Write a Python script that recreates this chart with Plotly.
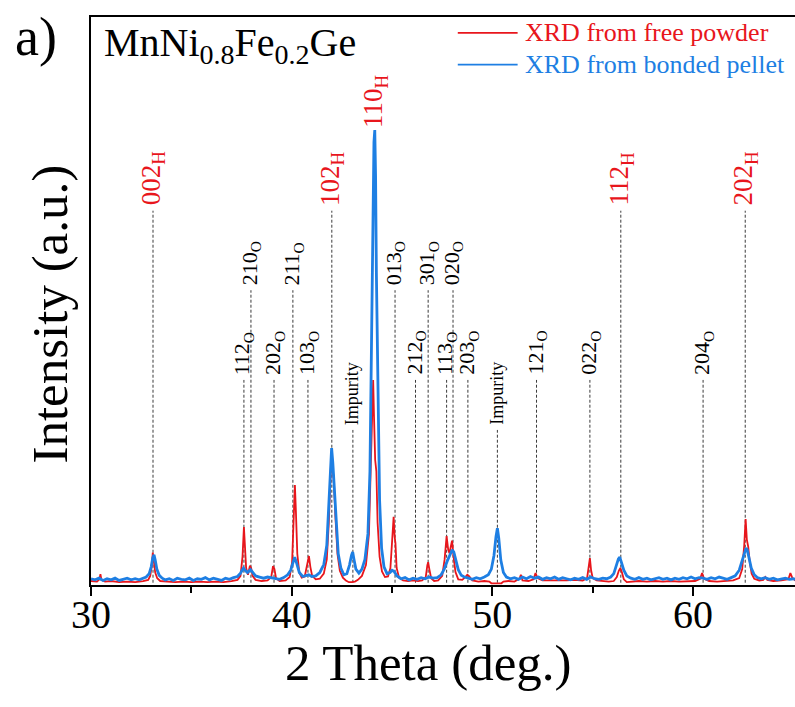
import plotly.graph_objects as go

# ---------------- data ----------------
# XRD from free powder (red): 2-theta (deg) / intensity (a.u.)
powder_2theta = [30.0, 30.3, 30.42, 30.47, 30.52, 30.7, 31.0, 31.4, 31.8, 32.2, 32.6, 32.85, 32.95, 33.02, 33.08,
                 33.13, 33.2, 33.3, 33.45, 33.8, 34.2, 34.6, 35.0, 35.4, 35.8, 36.2, 36.6, 37.0, 37.3, 37.45,
                 37.55, 37.62, 37.67, 37.73, 37.82, 37.92, 37.98, 38.05, 38.2, 38.5, 38.8, 38.98, 39.07, 39.14,
                 39.22, 39.4, 39.7, 39.9, 40.02, 40.1, 40.16, 40.21, 40.28, 40.38, 40.5, 40.65, 40.78, 40.86,
                 40.93, 41.02, 41.2, 41.4, 41.6, 41.75, 41.85, 41.93, 41.98, 42.04, 42.1, 42.18, 42.28, 42.4,
                 42.55, 42.7, 42.85, 43.0, 43.15, 43.3, 43.5, 43.7, 43.85, 43.95, 44.02, 44.06, 44.1, 44.16,
                 44.22, 44.28, 44.38, 44.5, 44.65, 44.8, 44.92, 45.02, 45.08, 45.13, 45.17, 45.23, 45.35, 45.55,
                 45.8, 46.05, 46.3, 46.5, 46.68, 46.76, 46.8, 46.86, 46.95, 47.1, 47.3, 47.5, 47.62, 47.72,
                 47.8, 47.86, 47.94, 47.99, 48.06, 48.16, 48.3, 48.5, 48.65, 48.75, 48.85, 49.0, 49.3, 49.6,
                 49.85, 49.95, 50.2, 50.45, 50.55, 50.8, 51.1, 51.35, 51.42, 51.5, 51.8, 52.05, 52.15, 52.25,
                 52.5, 52.9, 53.3, 53.7, 54.1, 54.5, 54.72, 54.8, 54.86, 54.92, 55.0, 55.2, 55.5, 55.8, 56.05,
                 56.2, 56.3, 56.38, 56.45, 56.55, 56.7, 56.9, 57.3, 57.7, 58.1, 58.5, 58.9, 59.3, 59.7, 60.1,
                 60.35, 60.45, 60.55, 60.8, 61.2, 61.6, 62.0, 62.3, 62.45, 62.55, 62.62, 62.68, 62.75, 62.82,
                 62.92, 63.05, 63.3, 63.5, 63.6, 63.7, 64.0, 64.4, 64.75, 64.85, 64.95, 65.1]
powder_intensity = [0.7, 0.6, 1.0, 1.9, 0.9, 0.6, 0.7, 0.5, 0.6, 0.5, 0.7, 0.9, 1.6, 3.2, 5.7,
                    4.5, 2.2, 1.2, 0.7, 0.6, 0.5, 0.6, 0.5, 0.6, 0.5, 0.6, 0.5, 0.7, 0.9, 1.6,
                    5.0, 10.2, 7.0, 3.0, 1.8, 3.4, 3.0, 1.6, 0.9, 0.7, 0.8, 1.4, 3.3, 2.8,
                    1.2, 0.7, 0.8, 1.4, 4.0, 12.0, 17.6, 13.0, 5.5, 2.2, 1.3, 1.5, 3.8, 5.1,
                    3.2, 1.6, 1.0, 1.1, 2.0, 4.5, 11.0, 20.0, 23.4, 20.5, 18.5, 12.0, 5.5, 2.5,
                    1.3, 0.8, 0.5, 0.5, 0.6, 0.9, 1.6, 3.5, 9.0, 22.0, 34.0, 36.1, 30.0, 22.0,
                    20.0, 11.0, 5.0, 2.4, 1.4, 1.5, 3.0, 8.0, 12.0, 8.5, 7.4, 3.0, 1.3, 0.8,
                    0.7, 0.8, 0.7, 0.8, 1.4, 3.5, 4.0, 2.8, 1.2, 0.7, 0.8, 1.6, 4.5, 8.6,
                    6.2, 5.6, 7.2, 7.8, 5.2, 2.3, 1.0, 0.9, 1.4, 1.8, 1.5, 0.8, 0.6, 0.7,
                    0.6, 0.3, 0.3, 0.3, 0.6, 0.7, 0.6, 1.1, 1.8, 0.8, 0.7, 1.0, 2.1, 1.2,
                    0.8, 0.8, 0.7, 0.8, 0.9, 0.8, 1.2, 3.5, 4.75, 2.6, 1.2, 0.8, 0.7, 0.6, 0.7,
                    1.4, 2.5, 3.0, 2.3, 1.0, 0.5, 0.6, 0.7, 0.6, 0.7, 0.6, 0.7, 0.6, 0.7, 0.7,
                    1.1, 2.1, 1.1, 0.7, 0.6, 0.7, 0.8, 1.2, 2.8, 7.0, 11.6, 8.0, 6.7, 4.2,
                    2.0, 1.1, 0.8, 0.9, 1.4, 0.9, 0.7, 0.8, 1.0, 2.1, 1.2, 0.8]

# XRD from bonded pellet (blue)
pellet_2theta = [30.0, 30.2, 30.4, 30.6, 30.8, 31.0, 31.2, 31.4, 31.6, 31.8, 32.0, 32.2, 32.4, 32.6, 32.75,
                 32.9, 33.0, 33.08, 33.14, 33.2, 33.28, 33.4, 33.55, 33.7, 33.9, 34.1, 34.3, 34.5, 34.7,
                 34.9, 35.1, 35.3, 35.5, 35.7, 35.9, 36.1, 36.3, 36.5, 36.7, 36.9, 37.1, 37.3, 37.45, 37.6,
                 37.7, 37.8, 37.95, 38.05, 38.2, 38.4, 38.6, 38.8, 39.0, 39.2, 39.4, 39.6, 39.8, 39.95,
                 40.05, 40.15, 40.25, 40.38, 40.55, 40.7, 40.85, 41.0, 41.2, 41.4, 41.6, 41.75, 41.85,
                 41.93, 41.99, 42.05, 42.12, 42.2, 42.32, 42.45, 42.6, 42.75, 42.88, 42.98, 43.04, 43.1,
                 43.2, 43.35, 43.5, 43.65, 43.8, 43.9, 43.98, 44.05, 44.1, 44.14, 44.18, 44.22, 44.25,
                 44.3, 44.38, 44.48, 44.6, 44.75, 44.9, 45.0, 45.1, 45.25, 45.45, 45.65, 45.85, 46.05,
                 46.25, 46.45, 46.65, 46.85, 47.05, 47.25, 47.45, 47.6, 47.75, 47.9, 48.0, 48.08, 48.18,
                 48.3, 48.45, 48.6, 48.8, 49.0, 49.2, 49.4, 49.6, 49.8, 49.95, 50.08, 50.18, 50.25, 50.32,
                 50.42, 50.55, 50.7, 50.9, 51.1, 51.3, 51.5, 51.7, 51.9, 52.1, 52.3, 52.5, 52.7, 52.9,
                 53.1, 53.3, 53.5, 53.7, 53.9, 54.1, 54.3, 54.5, 54.7, 54.9, 55.1, 55.3, 55.5, 55.7, 55.9,
                 56.05, 56.18, 56.28, 56.35, 56.42, 56.55, 56.7, 56.9, 57.1, 57.3, 57.5, 57.7, 57.9, 58.1,
                 58.3, 58.5, 58.7, 58.9, 59.1, 59.3, 59.5, 59.7, 59.9, 60.1, 60.3, 60.5, 60.7, 60.9, 61.1,
                 61.3, 61.5, 61.7, 61.9, 62.1, 62.3, 62.45, 62.55, 62.64, 62.7, 62.78, 62.9, 63.05, 63.2,
                 63.4, 63.6, 63.8, 64.0, 64.2, 64.4, 64.6, 64.8, 65.0, 65.1]
pellet_intensity = [1.1, 0.9, 1.2, 0.8, 1.1, 0.9, 1.2, 0.8, 1.0, 1.2, 0.9, 1.1, 0.9, 1.2, 1.4,
                    2.0, 3.2, 4.8, 5.3, 4.4, 2.8, 1.7, 1.2, 0.9, 1.1, 0.8, 1.2, 1.0, 0.9,
                    1.2, 0.8, 1.1, 1.0, 1.3, 0.9, 1.2, 1.0, 0.8, 1.2, 1.0, 1.3, 1.5, 2.1, 3.0,
                    2.5, 2.2, 2.7, 2.3, 1.6, 1.4, 1.2, 1.4, 1.3, 1.1, 1.0, 1.3, 1.8, 2.6,
                    3.9, 4.9, 3.8, 2.2, 1.5, 1.6, 1.8, 1.5, 1.6, 2.2, 3.6, 7.0, 14.0,
                    21.0, 24.1, 21.5, 17.0, 11.0, 5.5, 3.0, 1.8, 2.0, 3.5, 5.2, 5.8, 4.6,
                    2.8, 2.1, 2.8, 4.5, 9.0, 20.0, 45.0, 70.0, 78.0, 80.1, 72.0, 55.0, 49.6,
                    35.0, 15.0, 6.5, 3.2, 2.0, 2.2, 2.6, 2.4, 1.6, 1.1, 1.3, 0.9, 1.2,
                    1.0, 1.3, 1.1, 1.4, 1.2, 1.3, 1.8, 2.8, 4.2, 5.6, 6.2, 5.8, 4.3,
                    2.7, 1.7, 1.4, 1.2, 1.0, 1.3, 1.1, 1.4, 1.8, 2.8, 5.2, 8.5, 10.0, 8.2,
                    4.4, 2.2, 1.4, 1.1, 1.3, 1.0, 1.4, 1.1, 1.5, 1.2, 1.4, 1.0, 1.3, 1.1,
                    1.4, 1.0, 1.3, 1.1, 0.9, 1.2, 1.0, 1.3, 1.0, 1.4, 1.1, 1.0, 1.2, 1.1, 1.4,
                    2.0, 3.4, 4.6, 4.9, 4.2, 2.6, 1.6, 1.2, 1.0, 1.3, 1.0, 1.2, 0.9, 1.1,
                    1.3, 1.0, 1.2, 0.9, 1.2, 1.0, 1.3, 1.1, 1.4, 1.1, 1.3, 1.2, 1.0, 1.3, 1.1,
                    1.4, 1.2, 1.0, 1.3, 1.6, 2.6, 4.2, 5.6, 6.5, 6.2, 5.0, 3.0, 1.8, 1.3,
                    1.1, 1.3, 1.0, 1.2, 0.9, 1.1, 1.2, 1.0, 1.1, 1.0]

# Peak indexing
peak_hkl = ["002", "112", "210", "202", "211", "103", "102", "Impurity", "110", "013", "212",
            "301", "113", "020", "203", "Impurity", "121", "022", "112", "204", "202"]
peak_phase = ["H", "O", "O", "O", "O", "O", "H", "imp", "H", "O", "O",
              "O", "O", "O", "O", "imp", "O", "O", "H", "O", "H"]
peak_2theta = [33.09, 37.62, 37.97, 39.12, 40.06, 40.81, 42.0, 43.05, 44.15, 45.15, 46.17,
               46.8, 47.72, 48.04, 48.78, 50.25, 52.2, 54.86, 56.4, 60.5, 62.6]

x_ticks = [30, 40, 50, 60]

# ---------------- layout / style ----------------
RED = "#E8161C"
BLUE = "#1E7FE3"
FONT = "Liberation Serif"
# label tier (height of marker line top, in axis units) per peak
peak_tier = ["H", "low", "high", "low", "high", "low", "H", "imp", "top", "high", "low",
             "high", "low", "high", "low", "imp", "low", "low", "H", "low", "H"]
tier_height = {"H": 65.9, "high": 51.9, "low": 36.1, "imp": 27.3, "top": 80.1}

fig = go.Figure()
fig.add_trace(go.Scatter(x=powder_2theta, y=powder_intensity, mode="lines",
                         line=dict(color=RED, width=1.8), name="XRD from free powder",
                         showlegend=False))
fig.add_trace(go.Scatter(x=pellet_2theta, y=pellet_intensity, mode="lines",
                         line=dict(color=BLUE, width=2.8), name="XRD from bonded pellet",
                         showlegend=False))

shapes = []
annotations = []
for hkl, ph, pos, tier in zip(peak_hkl, peak_phase, peak_2theta, peak_tier):
    top = tier_height[tier]
    if tier != "top":
        shapes.append(dict(type="line", xref="x", yref="y", x0=pos, x1=pos, y0=0.4, y1=top,
                           line=dict(color="#3a3a3a", width=1, dash="3px,2px"), layer="below"))
    if ph == "H":
        txt = f"{hkl}<sub>H</sub>"
        fnt = dict(family=FONT, size=27, color=RED)
    elif ph == "O":
        txt = f"{hkl}<sub>O</sub>"
        fnt = dict(family=FONT, size=22, color="black")
    else:
        txt = hkl
        fnt = dict(family=FONT, size=18, color="black")
    annotations.append(dict(x=pos, y=top, xref="x", yref="y", text=txt, showarrow=False,
                            textangle=-90, xanchor="center", yanchor="bottom",
                            yshift=0 if tier == "top" else 3,
                            font=fnt))

# legend (manual, to match line length)
legend_items = [("XRD from free powder", RED, 0.972), ("XRD from bonded pellet", BLUE, 0.916)]
for name, col, yp in legend_items:
    shapes.append(dict(type="line", xref="paper", yref="paper", x0=0.521, x1=0.606, y0=yp, y1=yp,
                       line=dict(color=col, width=1.8)))
    annotations.append(dict(x=0.613, y=yp, xref="paper", yref="paper", text=name, showarrow=False,
                            xanchor="left", yanchor="middle",
                            font=dict(family=FONT, size=26, color=col)))

annotations.append(dict(x=0.016, y=0.998, xref="paper", yref="paper",
                        text="MnNi<sub>0.8</sub>Fe<sub>0.2</sub>Ge", showarrow=False,
                        xanchor="left", yanchor="top", font=dict(family=FONT, size=40, color="black")))
annotations.append(dict(x=-0.078, y=1.022, xref="paper", yref="paper", text="a)", showarrow=False,
                        xanchor="center", yanchor="top", font=dict(family=FONT, size=54, color="black")))
annotations.append(dict(x=-0.0575, y=0.477, xref="paper", yref="paper", text="Intensity (a.u.)",
                        showarrow=False, textangle=-90, xanchor="center", yanchor="middle",
                        font=dict(family=FONT, size=51, color="black")))
annotations.append(dict(x=0.48, y=-0.138, xref="paper", yref="paper", text="2 Theta (deg.)",
                        showarrow=False, xanchor="center", yanchor="middle",
                        font=dict(family=FONT, size=51, color="black")))

fig.update_layout(
    width=795, height=707,
    margin=dict(l=91, r=0, t=17, b=122),
    paper_bgcolor="white", plot_bgcolor="white",
    shapes=shapes, annotations=annotations,
    font=dict(family=FONT, color="black"),
    xaxis=dict(range=[30, 65.08], tickvals=x_ticks, ticktext=[str(v) for v in x_ticks],
               ticks="outside", ticklen=9, tickwidth=2, tickcolor="black",
               ticklabelstandoff=-16,
               minor=dict(tickvals=[35, 45, 55], ticks="outside", ticklen=6, tickwidth=2, tickcolor="black"),
               showline=True, linecolor="black", linewidth=2, mirror=True,
               showgrid=False, zeroline=False,
               tickfont=dict(family=FONT, size=40, color="black")),
    yaxis=dict(range=[0, 100], showticklabels=False, ticks="", showgrid=False, zeroline=False,
               showline=True, linecolor="black", linewidth=2, mirror=False),
)

fig.write_html("out.html")
